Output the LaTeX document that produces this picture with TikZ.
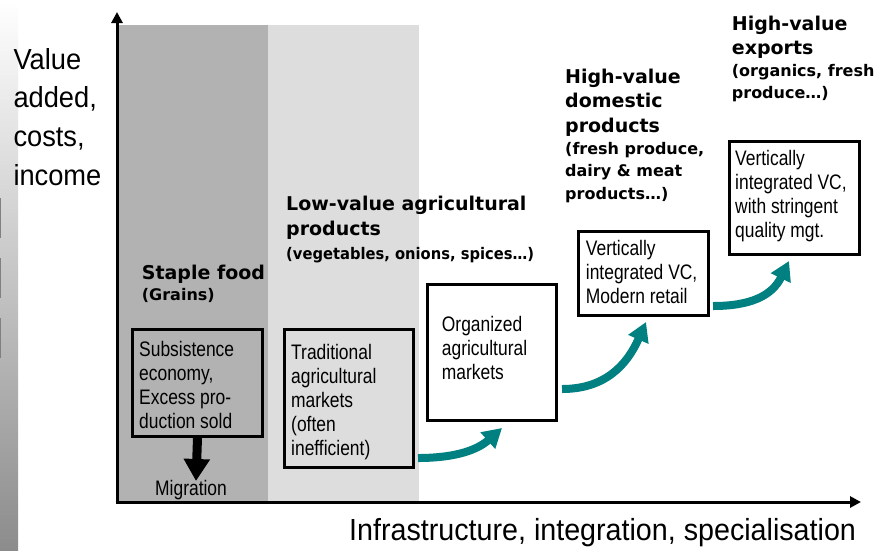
\documentclass[tikz,border=0pt]{standalone}
\usepackage{graphicx}
\usepackage{fontspec}
\setmainfont{Liberation Sans}
\newfontfamily\boxfont{Liberation Sans}[FakeStretch=0.83]
\newfontfamily\axfont{Liberation Sans}[FakeStretch=0.94]
\newfontfamily\hdfont{DejaVu Sans}
\usetikzlibrary{arrows.meta}
\definecolor{darkreg}{HTML}{B2B2B2}
\definecolor{lightreg}{HTML}{DDDDDD}
\definecolor{tealc}{HTML}{008080}
\definecolor{barbot}{HTML}{8C8C8C}
\newcommand\mylines[1]{\begin{tabular}[t]{@{}l@{}}#1\end{tabular}}
\tikzset{
  box/.style={draw=black, line width=3pt, anchor=north west, inner sep=0pt},
  boxtext/.style={anchor=base west, inner sep=0pt, font=\boxfont\fontsize{21}{24}\selectfont},
  titletext/.style={anchor=base west, inner sep=0pt, font=\hdfont\bfseries\fontsize{19}{24.4}\selectfont},
  subtext/.style={anchor=base west, inner sep=0pt, font=\hdfont\bfseries\fontsize{16}{22.5}\selectfont},
  ylabtext/.style={anchor=base west, inner sep=0pt, font=\axfont\fontsize{29}{38.7}\selectfont},
  xlabtext/.style={anchor=base west, inner sep=0pt, font=\axfont\fontsize{30.5}{36}\selectfont},
  tealarrow/.style={draw=tealc, line width=8pt, -{Triangle[width=21pt,length=19pt]}},
  axisline/.style={line width=3pt, -{Triangle[width=11pt,length=11pt]}},
}
\begin{document}
\begin{tikzpicture}[x=1pt,y=-1pt]
\useasboundingbox (0,0) rectangle (882,550);
\fill[white] (0,0) rectangle (882,550);
% left gradient bar
\shade[top color=white, bottom color=barbot] (0,0) rectangle (18,550);
\draw[gray, line width=1pt] (0.5,198) -- (0.5,238);
\draw[gray, line width=1pt] (0.5,258) -- (0.5,298);
\draw[gray, line width=1pt] (0.5,318) -- (0.5,358);
% regions
\fill[darkreg] (117,25) rectangle (268,502);
\fill[lightreg] (268,25) rectangle (419,502);
% axes
\coordinate (O) at (117,502);
\coordinate (Ox) at (115.5,502);
\coordinate (ytip) at (117,12);
\coordinate (xtip) at (861,502);
\draw[axisline] (O) -- (ytip);
\draw[axisline] (Ox) -- (xtip);
\node[ylabtext] (ylab) at (13.3,69) {\mylines{Value\\added,\\costs,\\income}};
\node[xlabtext] (xlab) at (349,540.7) {Infrastructure, integration, specialisation};
% titles
\node[titletext] (stapleT) at (141.7,279.3) {\mylines{Staple food}};
\node[subtext] (stapleS) at (141.7,300) {\mylines{(Grains)}};
\node[titletext] (lowT) at (286,210.7) {\mylines{Low-value agricultural\\products}};
\node[subtext] (lowS) at (286,259) {\scalebox{0.92}[1]{(vegetables, onions, spices…)}};
\node[titletext] (domT) at (565,83.3) {\mylines{High-value\\domestic\\products}};
\node[subtext] (domS) at (565,154) {\mylines{(fresh produce,\\dairy \& meat\\products…)}};
\node[titletext] (expT) at (731.7,30) {\mylines{High-value\\exports}};
\node[subtext] (expS) at (731.7,76) {\mylines{(organics, fresh\\produce…)}};
% boxes
\node[box, minimum width=130pt, minimum height=107pt] (staple) at (131,328) {};
\node[box, minimum width=129pt, minimum height=138pt] (trad) at (283,328) {};
\node[box, fill=white, minimum width=129pt, minimum height=136pt] (org) at (426,283) {};
\node[box, fill=white, minimum width=130pt, minimum height=84pt] (ret) at (577,230) {};
\node[box, fill=white, minimum width=130pt, minimum height=113pt] (exp) at (728,140) {};
\node[boxtext] (stapleTx) at (139,356) {\mylines{Subsistence\\economy,\\Excess pro-\\duction sold}};
\node[boxtext] (tradTx) at (291,359.3) {\mylines{Traditional\\agricultural\\markets\\(often\\inefficient)}};
\node[boxtext] (orgTx) at (441.7,331) {\mylines{Organized\\agricultural\\markets}};
\node[boxtext] (retTx) at (585.7,255) {\mylines{Vertically\\integrated VC,\\Modern retail}};
\node[boxtext] (expTx) at (735,165.7) {\mylines{Vertically\\integrated VC,\\with stringent\\quality mgt.}};
% migration
\coordinate (migtip) at (196,481);
\draw[line width=9pt, -{Triangle[width=25pt,length=22pt]}] (staple.south) -- (migtip);
\node[boxtext] (mig) at (155,495) {Migration};
% teal arrows
\coordinate (a1s) at (418,458);
\coordinate (a1e) at (502,428);
\coordinate (a2s) at (562,389);
\coordinate (a2e) at (646,322);
\coordinate (a3s) at (713,306);
\coordinate (a3e) at (789,261);
\draw[tealarrow] (a1s) .. controls (450,458) and (475,452) .. (a1e);
\draw[tealarrow] (a2s) .. controls (605,389) and (627,365) .. (a2e);
\draw[tealarrow] (a3s) .. controls (750,306) and (772,296) .. (a3e);
\end{tikzpicture}
\end{document}
